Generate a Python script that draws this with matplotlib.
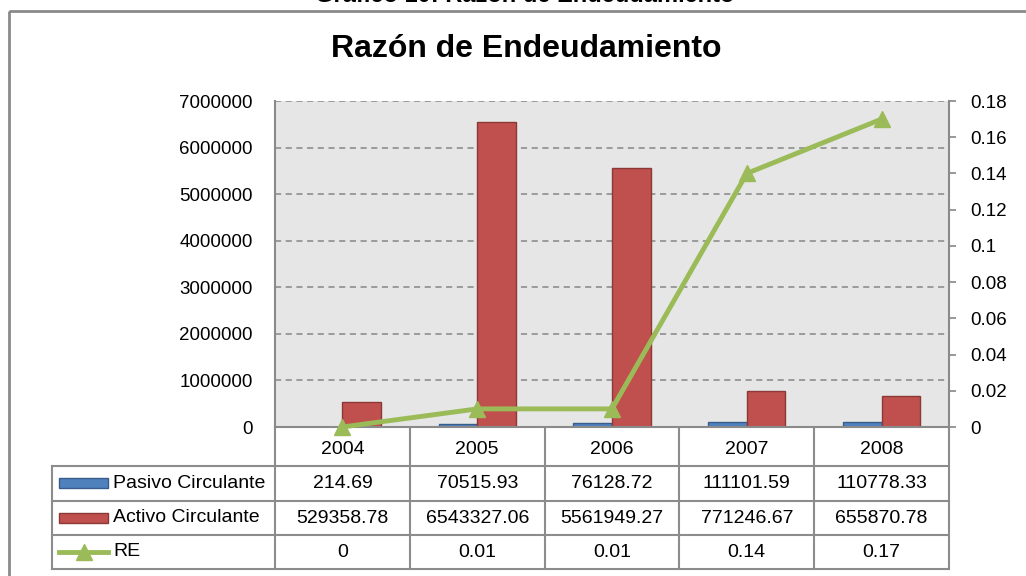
import matplotlib
matplotlib.use('Agg')
import matplotlib.pyplot as plt
from matplotlib.patches import Rectangle
from matplotlib.ticker import FuncFormatter

plt.rcParams['font.family'] = ['Liberation Sans', 'DejaVu Sans']

# Data
years = ['2004', '2005', '2006', '2007', '2008']
pasivo = [214.69, 70515.93, 76128.72, 111101.59, 110778.33]
activo = [529358.78, 6543327.06, 5561949.27, 771246.67, 655870.78]
re_vals = [0, 0.01, 0.01, 0.14, 0.17]
series_names = ['Pasivo Circulante', 'Activo Circulante', 'RE']

# Colours
blue, blue_edge = '#4F81BD', '#385D8A'
red, red_edge = '#C0504D', '#8C3836'
green = '#9BBB59'
grey = '#8A8A8A'

W, H = 1026, 576
fig = plt.figure(figsize=(W / 100, H / 100), dpi=100)

# plot area in pixels
L, R, T, B = 275, 949, 101, 427
ax = fig.add_axes([L / W, 1 - B / H, (R - L) / W, (B - T) / H])
ax.set_facecolor('#E6E6E6')

x = list(range(len(years)))
w = 0.2857
ax.bar([i - w / 2 for i in x], pasivo, w, color=blue, edgecolor=blue_edge, lw=1)
ax.bar([i + w / 2 for i in x], activo, w, color=red, edgecolor=red_edge, lw=1)
ax.set_xlim(-0.5, len(years) - 0.5)
ax.set_ylim(0, 7000000)
ax.set_yticks(range(0, 7000001, 1000000))
ax.yaxis.set_major_formatter(FuncFormatter(lambda v, p: f'{int(v)}'))
ax.set_axisbelow(True)
ax.yaxis.grid(True, ls=(0, (4, 3)), color='#868686', lw=1.1)
ax.tick_params(axis='y', length=0, pad=16, labelsize=13.5)
ax.tick_params(axis='x', bottom=False, labelbottom=False)
for s in ['top', 'right']:
    ax.spines[s].set_visible(False)
for s in ['left', 'bottom']:
    ax.spines[s].set_color(grey)
    ax.spines[s].set_linewidth(1.5)

# secondary axis for RE
ax2 = ax.twinx()
ax2.plot(x, re_vals, color=green, lw=3.5, marker='^', ms=12, clip_on=False, zorder=5)
ax2.set_ylim(0, 0.18)
ax2.set_yticks([i * 0.02 for i in range(10)])
ax2.yaxis.set_major_formatter(FuncFormatter(lambda v, p: f'{round(v, 2):g}'))
ax2.tick_params(axis='y', length=5, width=1.2, color='#868686', pad=10, labelsize=13.5)
for s in ['top', 'left', 'bottom']:
    ax2.spines[s].set_visible(False)
ax2.spines['right'].set_color(grey)
ax2.spines['right'].set_linewidth(1.5)

# overlay in pixel coords for border and data table
ov = fig.add_axes([0, 0, 1, 1], zorder=-1)
ov.set_xlim(0, W)
ov.set_ylim(H, 0)
ov.axis('off')
ov.add_patch(Rectangle((9, 11), W + 20, H + 20, fill=False, ec=grey, lw=2))

# caption at the top (cut off by the page edge, as in the source)
fig.text(525 / W, 1 - 2.5 / H, 'Gráfico 10: Razón de Endeudamiento',
         fontsize=17, weight='bold', ha='center', va='baseline')
fig.text(526 / W, 1 - 57 / H, 'Razón de Endeudamiento',
         fontsize=23, weight='bold', ha='center', va='baseline')

col_w = (R - L) / len(years)
tl = 52
rows_y = [B, 466, 500.5, 535, 569]
lc = '#8C8C8C'
# horizontal lines
for y in rows_y[1:]:
    ov.plot([tl, R], [y, y], color=lc, lw=1.5)
# vertical lines
for i in range(len(years) + 1):
    ov.plot([L + i * col_w] * 2, [B, rows_y[-1]], color=lc, lw=1.5)
ov.plot([tl, tl], [rows_y[1], rows_y[-1]], color=lc, lw=1.5)

# header
for i, yr in enumerate(years):
    ov.text(L + (i + 0.5) * col_w, (rows_y[0] + rows_y[1]) / 2 + 3, yr,
            ha='center', va='center', fontsize=14)

table_rows = [
    [f'{v:.2f}' for v in pasivo],
    [f'{v:.2f}' for v in activo],
    [f'{v:g}' for v in re_vals],
]
for r, vals in enumerate(table_rows):
    yc = (rows_y[r + 1] + rows_y[r + 2]) / 2
    for i, t in enumerate(vals):
        ov.text(L + (i + 0.5) * col_w, yc + 0.5, t, ha='center', va='center', fontsize=14)
    # legend keys
    if r == 0:
        ov.add_patch(Rectangle((59, yc - 5), 49, 10, fc=blue, ec=blue_edge, lw=1))
    elif r == 1:
        ov.add_patch(Rectangle((59, yc - 5), 49, 10, fc=red, ec=red_edge, lw=1))
    else:
        ov.plot([59, 108], [yc, yc], color=green, lw=3.5)
        ov.plot([83.5], [yc], color=green, marker='^', ms=11)
    ov.text(113, yc, series_names[r], ha='left', va='center', fontsize=14)

fig.savefig('out.png', dpi=100)
